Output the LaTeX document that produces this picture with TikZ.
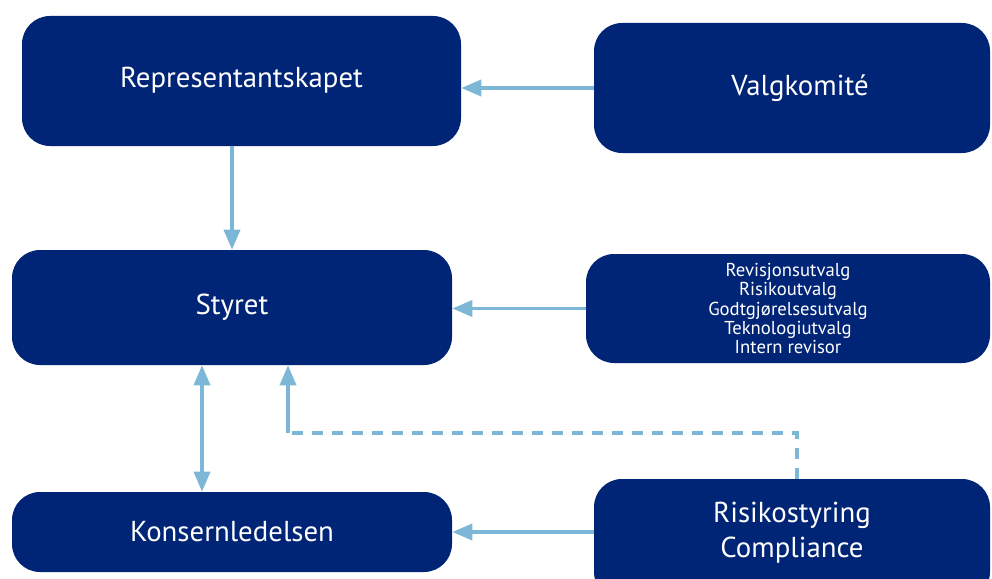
\documentclass[tikz,border=0pt]{standalone}
\usepackage{fontspec}
\setmainfont{PT Sans}
\usetikzlibrary{arrows.meta,positioning,calc}
\definecolor{navy}{RGB}{0,36,118}
\definecolor{linkblue}{RGB}{125,183,215}

\begin{document}
\begin{tikzpicture}[
    box/.style={draw=none,rectangle,rounded corners=0.7cm,fill=navy,text=white,align=center,inner sep=0pt,font=\fontsize{20.5}{25}\selectfont},
    smallbox/.style={box,font=\fontsize{13.3}{13.8}\selectfont},
    link/.style={draw=linkblue,line width=2.5pt,-{Triangle[length=0.5cm,width=0.4cm]}},
    dlink/.style={link,{Triangle[length=0.5cm,width=0.4cm]}-{Triangle[length=0.5cm,width=0.4cm]}},
    dashlink/.style={draw=linkblue,line width=2.5pt,dash pattern=on 0.28cm off 0.22cm}
  ]
    \useasboundingbox (0,0) rectangle (24.8,14.45);
    \clip (0,0) rectangle (24.8,14.45);

    % Left column
    \node[box,minimum width=10.975cm,minimum height=3.25cm] (rep) at (6.0375,12.425) {Representantskapet\rule[-0.2cm]{0pt}{0.2cm}};
    \node[box,minimum width=11.0cm,minimum height=2.875cm] (sty) at (5.8,6.7625) {Styret};
    \node[box,minimum width=11.0cm,minimum height=2.0cm] (kon) at (5.8,1.15) {Konsernledelsen};

    % Right column
    \node[box,minimum width=9.9cm,minimum height=3.25cm] (val) at (19.8,12.25) {\hspace{0.4cm}Valgkomité};
    \node[smallbox,minimum width=10.1cm,minimum height=2.725cm] (utv) at (19.7,6.7375)
      {Revisjonsutvalg\\Risikoutvalg\\Godtgjørelsesutvalg\\Teknologiutvalg\\Intern revisor};
    \node[box,minimum width=9.9cm,minimum height=3.025cm] (ris) at (19.8,0.9625)
      {Risikostyring\\Compliance\rule[-0.5cm]{0pt}{0.5cm}};

    % Connectors
    \draw[link] (val.west) -- (val.west -| rep.east);
    \draw[link] (sty.north |- rep.south) -- (sty.north);
    \draw[link] (utv.west) -- (utv.west -| sty.east);
    \draw[link] (kon.east -| ris.west) -- (kon.east);
    \draw[dlink] ([xshift=-0.75cm]sty.south) -- ([xshift=-0.75cm]kon.north);

    % Dashed reporting line
    \coordinate (d1) at (7.2,3.625);
    \coordinate (d2) at (19.925,3.625);
    \draw[dashlink] (ris.north -| d2) -- (d2) -- (d1);
    \draw[link] (d1) -- (d1 |- sty.south);
\end{tikzpicture}
\end{document}
